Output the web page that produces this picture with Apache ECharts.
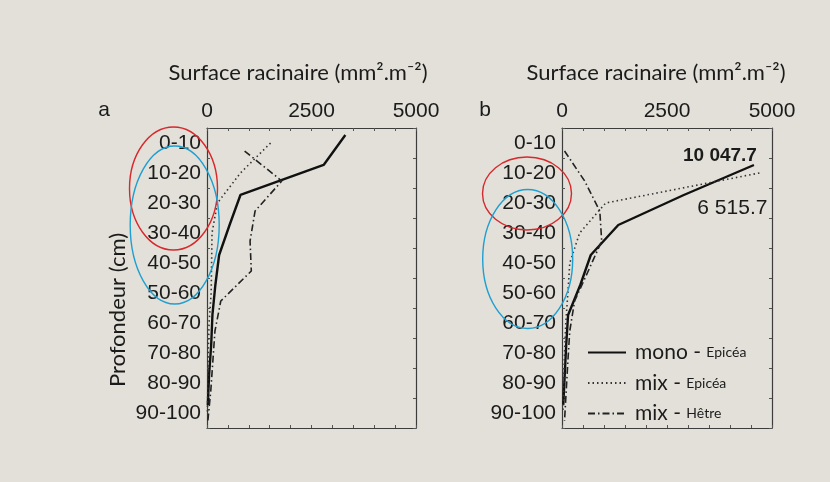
<!DOCTYPE html>
<html>
<head>
<meta charset="utf-8">
<script src="https://cdn.jsdelivr.net/npm/echarts@6/dist/echarts.min.js"></script>
<style>
    html, body { margin: 0; padding: 0; background: #e2e0d9; }
    #chart { position: absolute; left: 0; top: 0; width: 830px; height: 482px; }
</style>
</head>
<body>
<div id="chart"></div>
<script>
    // profondeurs (cm)
    let depthLabels = ['0-10', '10-20', '20-30', '30-40', '40-50', '50-60', '60-70', '70-80', '80-90', '90-100'];
    let xTicks = [0, 2500, 5000];

    // a
    let monoEpiceaA = [3310, 2790, 800, 540, 290, 200, 130, 100, 50, 20];
    let mixEpiceaA = [1520, 800, 250, 120, 110, 100, 50, 30, 20, 10];
    let mixHetreA = [900, 1790, 1150, 1030, 1060, 330, 190, 140, 90, 20];

    // b (10-20 : valeurs hors echelle, tracees coupees)
    let monoEpiceaB = [null, 4570, 2900, 1340, 685, 435, 145, 100, 65, 30];
    let mixEpiceaB = [null, 4700, 1040, 420, 185, 140, 90, 60, 40, 20];
    let mixHetreB = [60, 540, 900, 945, 625, 300, 185, 140, 100, 60];

    let monoEpiceaBTop = '10 047.7';
    let mixEpiceaBTop = '6 515.7';

    let seriesNames = ['mono - Epicéa', 'mix - Epicéa', 'mix - Hêtre'];

    let ink = '#1b1b1b';
    let boxColor = '#3c3c3c';
    let numFont = 'Liberation Sans';
    let txtFont = 'Lato';

    let styles = [
        { color: '#111', width: 2.4, type: 'solid', shift: -2.67 },
        { color: '#333', width: 1.6, type: [1.5, 3], shift: 0 },
        { color: '#222', width: 1.6, type: [7, 3, 1.5, 3], shift: 2.67 }
    ];

    function midDepth(label) {
        let p = label.split('-').map(Number);
        return (p[0] + p[1]) / 2;
    }

    function buildSeries(name, values, xIdx, yIdx, st, labels) {
        let data = [];
        values.forEach(function (v, i) {
            if (v === null) return;
            let item = { value: [v, midDepth(depthLabels[i]) + st.shift] };
            if (labels && labels[i]) item.label = labels[i];
            data.push(item);
        });
        return {
            type: 'line',
            name: name,
            xAxisIndex: xIdx,
            yAxisIndex: yIdx,
            symbol: 'circle',
            symbolSize: 0,
            showSymbol: true,
            clip: true,
            lineStyle: { color: st.color, width: st.width, type: st.type },
            itemStyle: { color: st.color },
            data: data
        };
    }

    function topAxis(gridIndex) {
        return {
            type: 'value', gridIndex: gridIndex, position: 'top',
            min: 0, max: 5000, interval: 500,
            axisLine: { show: true, onZero: false, lineStyle: { color: boxColor, width: 1.2 } },
            axisTick: { show: true, inside: true, length: 3, lineStyle: { color: '#555' } },
            axisLabel: {
                margin: 6, fontSize: 21, fontFamily: numFont, color: ink,
                formatter: function (v) { return xTicks.indexOf(v) > -1 ? String(v) : ''; }
            },
            splitLine: { show: false }
        };
    }

    function bottomAxis(gridIndex) {
        return {
            type: 'value', gridIndex: gridIndex, position: 'bottom',
            min: 0, max: 5000, interval: 500,
            axisLine: { show: true, onZero: false, lineStyle: { color: boxColor, width: 1.2 } },
            axisTick: { show: true, inside: true, length: 3, lineStyle: { color: '#555' } },
            axisLabel: { show: false },
            splitLine: { show: false }
        };
    }

    function catAxis(gridIndex, position, withLabels) {
        return {
            type: 'category', gridIndex: gridIndex, position: position,
            inverse: true, boundaryGap: true, data: depthLabels,
            axisLine: { show: true, onZero: false, lineStyle: { color: boxColor, width: 1.2 } },
            axisTick: { show: true, inside: true, length: 3, lineStyle: { color: '#555' } },
            axisLabel: withLabels
                ? { show: true, margin: 6, fontSize: 21, fontFamily: numFont, color: ink }
                : { show: false },
            splitLine: { show: false }
        };
    }

    function depthAxis(gridIndex) {
        return {
            type: 'value', gridIndex: gridIndex, show: false, inverse: true, min: 0, max: 100,
            axisLine: { onZero: false }
        };
    }

    let series = [
        buildSeries(seriesNames[0], monoEpiceaA, 0, 2, styles[0]),
        buildSeries(seriesNames[1], mixEpiceaA, 0, 2, styles[1]),
        buildSeries(seriesNames[2], mixHetreA, 0, 2, styles[2]),
        buildSeries(seriesNames[0], monoEpiceaB, 2, 5, styles[0], {
            1: {
                show: true, formatter: monoEpiceaBTop, position: 'top', align: 'right',
                distance: 0, offset: [3, 0], fontSize: 19, fontWeight: 'bold',
                fontFamily: numFont, color: ink
            }
        }),
        buildSeries(seriesNames[1], mixEpiceaB, 2, 5, styles[1], {
            1: {
                show: true, formatter: mixEpiceaBTop, position: 'bottom', align: 'right',
                verticalAlign: 'middle', distance: 0, offset: [8, 35], fontSize: 21,
                fontFamily: numFont, color: ink
            }
        }),
        buildSeries(seriesNames[2], mixHetreB, 2, 5, styles[2])
    ];

    function ellipse(cx, cy, rx, ry, color) {
        return {
            type: 'ellipse', z: 100, silent: true,
            shape: { cx: cx, cy: cy, rx: rx, ry: ry },
            style: { fill: 'none', stroke: color, lineWidth: 1.4 }
        };
    }

    function text(x, y, str, size, font, extra) {
        let t = {
            type: 'text', x: x, y: y, z: 50, silent: true,
            style: {
                text: str, fontSize: size, fontFamily: font, fill: ink,
                textAlign: 'center', textVerticalAlign: 'middle'
            }
        };
        return Object.assign(t, extra || {});
    }

    let myChart = echarts.init(document.getElementById('chart'), null, { renderer: 'canvas' });

    let option = {
        backgroundColor: '#e2e0d9',
        animation: false,
        grid: [
            { left: 207, top: 128, width: 209, height: 300, containLabel: false },
            { left: 562, top: 128, width: 210, height: 300, containLabel: false }
        ],
        xAxis: [topAxis(0), bottomAxis(0), topAxis(1), bottomAxis(1)],
        yAxis: [
            catAxis(0, 'left', true), catAxis(0, 'right', false), depthAxis(0),
            catAxis(1, 'left', true), catAxis(1, 'right', false), depthAxis(1)
        ],
        legend: {
            orient: 'vertical', left: 582, top: 337,
            itemWidth: 38, itemHeight: 14, itemGap: 9.5,
            data: seriesNames,
            itemStyle: { opacity: 0 },
            formatter: function (name) {
                let p = name.split(' - ');
                return '{a|' + p[0] + ' - }{b|' + p[1] + '}';
            },
            textStyle: {
                rich: {
                    a: { fontSize: 21, fontFamily: txtFont, color: ink, padding: [0, 0, 0, 4], lineHeight: 22, verticalAlign: 'middle' },
                    b: { fontSize: 14, fontFamily: txtFont, color: ink, lineHeight: 22, verticalAlign: 'middle' }
                }
            }
        },
        graphic: [
            text(298, 73, 'Surface racinaire (mm².m⁻²)', 22, txtFont),
            text(656, 73, 'Surface racinaire (mm².m⁻²)', 22, txtFont),
            text(104, 110, 'a', 21, numFont),
            text(485, 110, 'b', 21, numFont),
            text(118, 310, 'Profondeur (cm)', 22, txtFont, { rotation: Math.PI / 2 }),
            ellipse(173.5, 188.5, 44, 61.5, '#d8282c'),
            ellipse(174.7, 225, 44.5, 79, '#1f9fd0'),
            ellipse(527, 193.5, 44.5, 36.5, '#d8282c'),
            ellipse(527.7, 259, 45, 69.5, '#1f9fd0')
        ],
        series: series
    };

    myChart.setOption(option);
</script>
</body>
</html>
